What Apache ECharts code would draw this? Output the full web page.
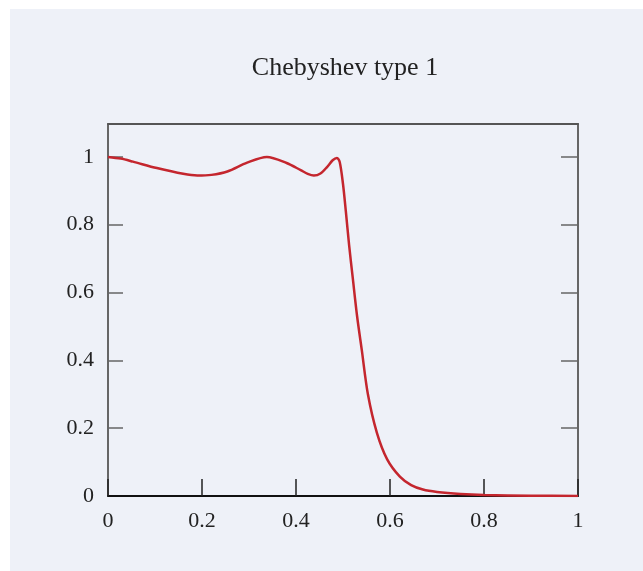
<!DOCTYPE html>
<html>
<head>
<meta charset="utf-8">
<script src="https://cdn.jsdelivr.net/npm/echarts@6/dist/echarts.min.js"></script>
<style>
html,body{margin:0;padding:0;background:#ffffff;}
#panel{position:absolute;left:10px;top:9px;width:633px;height:562px;background:#eef1f8;}
#chart{position:absolute;left:0;top:0;width:643px;height:571px;}
</style>
</head>
<body>
<div id="panel"></div>
<div id="chart"></div>
<script>
const titleText = 'Chebyshev type 1';
const freq = [0, 0.027, 0.053, 0.104, 0.16, 0.19, 0.22, 0.254, 0.296, 0.338, 0.38, 0.41, 0.425, 0.438, 0.452, 0.466, 0.478, 0.487, 0.493, 0.5, 0.506, 0.513, 0.521, 0.53, 0.54, 0.553, 0.572, 0.594, 0.621, 0.645, 0.67, 0.70, 0.75, 0.8, 0.9, 1.0];
const gain = [1.0, 0.995, 0.986, 0.967, 0.950, 0.945, 0.947, 0.957, 0.983, 1.0, 0.982, 0.961, 0.950, 0.945, 0.951, 0.970, 0.990, 0.997, 0.985, 0.92, 0.84, 0.74, 0.64, 0.53, 0.43, 0.30, 0.187, 0.108, 0.057, 0.032, 0.019, 0.012, 0.006, 0.003, 0.001, 0.0];
const xTicks = [0, 0.2, 0.4, 0.6, 0.8, 1];
const yTicks = [0, 0.2, 0.4, 0.6, 0.8, 1];

const serif = 'Liberation Serif';
const chart = echarts.init(document.getElementById('chart'), null, {renderer: 'canvas'});
const onTick = (arr, v) => arr.some(t => Math.abs(t - v) < 1e-6);
chart.setOption({
  backgroundColor: 'transparent',
  animation: false,
  title: {
    text: titleText, left: 340, top: 50, textAlign: 'center',
    textStyle: {fontFamily: serif, fontSize: 26, fontWeight: 'normal', color: '#222'}
  },
  grid: {left: 108, right: 65, top: 124, bottom: 75, containLabel: false},
  xAxis: [{
    type: 'value', min: 0, max: 1, interval: 0.2, position: 'bottom',
    axisLine: {show: true, onZero: false, lineStyle: {color: '#111', width: 2}},
    axisTick: {show: true, inside: true, length: 17, lineStyle: {color: '#222', width: 1.5}},
    axisLabel: {margin: 14, fontFamily: serif, fontSize: 22, color: '#222',
      formatter: v => onTick(xTicks, v) ? String(+v.toFixed(1)) : ''},
    splitLine: {show: false}
  }, {
    type: 'value', min: 0, max: 1, position: 'top',
    axisLine: {show: true, onZero: false, lineStyle: {color: '#555', width: 2}},
    axisTick: {show: false}, axisLabel: {show: false}, splitLine: {show: false}
  }],
  yAxis: [{
    type: 'value', min: 0, max: 1.097, interval: 0.2, position: 'left',
    axisLine: {show: true, onZero: false, lineStyle: {color: '#666', width: 2}},
    axisTick: {show: true, inside: true, length: 15, customValues: yTicks.slice(1), lineStyle: {color: '#666', width: 1.5}},
    axisLabel: {margin: 14, fontFamily: serif, fontSize: 22, color: '#222', showMaxLabel: false,
      formatter: v => onTick(yTicks, v) ? String(+v.toFixed(1)) : ''},
    splitLine: {show: false}
  }, {
    type: 'value', min: 0, max: 1.097, interval: 0.2, position: 'right',
    axisLine: {show: true, onZero: false, lineStyle: {color: '#666', width: 2}},
    axisTick: {show: true, inside: true, length: 17, customValues: yTicks.slice(1), lineStyle: {color: '#666', width: 1.5}},
    axisLabel: {show: false}, splitLine: {show: false}
  }],
  series: [{
    type: 'line', xAxisIndex: 0, yAxisIndex: 0,
    data: freq.map((f, i) => [f, gain[i]]),
    showSymbol: false, smooth: 0.3,
    lineStyle: {color: '#c4262e', width: 2.5},
    z: 1
  }]
});
</script>
</body>
</html>
